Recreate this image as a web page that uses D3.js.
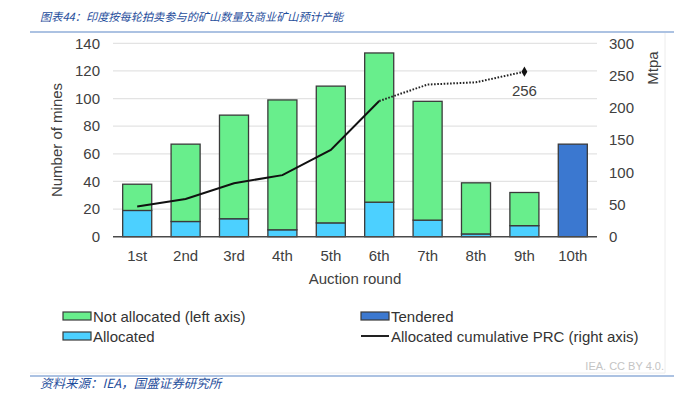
<!DOCTYPE html>
<html>
<head>
<meta charset="utf-8">
<script src="https://cdn.jsdelivr.net/npm/d3@7"></script>
<style>
  body { margin: 0; background: #fff; }
  svg { display: block; font-family: "Liberation Sans", Arial, sans-serif; }
</style>
</head>
<body>
<div id="chart"></div>
<script>
// data
var rounds = ["1st", "2nd", "3rd", "4th", "5th", "6th", "7th", "8th", "9th", "10th"];
var allocated = [19, 11, 13, 5, 10, 25, 12, 2, 8, 0];
var notAllocated = [19, 56, 75, 94, 99, 108, 86, 37, 24, 0];
var tendered = [0, 0, 0, 0, 0, 0, 0, 0, 0, 67];
var cumulativePRC = [47, 58.5, 83, 95.5, 134.5, 210.5, 236, 239.5, 256];
var leftTicks = [0, 20, 40, 60, 80, 100, 120, 140];
var rightTicks = [0, 50, 100, 150, 200, 250, 300];

var width = 696, height = 397;
var plot = { left: 113, right: 597, top: 43.3, bottom: 236.7 };
var fontSize = "15px";

var svg = d3.select("#chart").append("svg")
  .attr("width", width)
  .attr("height", height);

// title + frame lines
svg.append("text")
  .attr("x", 40).attr("y", 21)
  .style("font-family", "'Noto Sans CJK SC', sans-serif")
  .style("font-style", "italic")
  .style("font-size", "11.2px")
  .style("fill", "#1f4e9c")
  .text("图表44：印度按每轮拍卖参与的矿山数量及商业矿山预计产能");

svg.append("line")
  .attr("x1", 30).attr("x2", 674).attr("y1", 32).attr("y2", 32)
  .style("stroke", "#5b86c5").style("stroke-width", 1.2);

svg.append("line")
  .attr("x1", 665).attr("x2", 665).attr("y1", 33).attr("y2", 373)
  .style("stroke", "#ececec");
svg.append("line")
  .attr("x1", 30).attr("x2", 665).attr("y1", 373).attr("y2", 373)
  .style("stroke", "#ececec");

svg.append("line")
  .attr("x1", 30).attr("x2", 674).attr("y1", 376).attr("y2", 376)
  .style("stroke", "#5b86c5").style("stroke-width", 1.2);

svg.append("text")
  .attr("x", 40).attr("y", 388)
  .style("font-family", "'Noto Sans CJK SC', sans-serif")
  .style("font-style", "italic")
  .style("font-size", "12.5px")
  .style("fill", "#1f4e9c")
  .text("资料来源：IEA，国盛证券研究所");

svg.append("text")
  .attr("x", 664).attr("y", 370)
  .attr("text-anchor", "end")
  .style("font-size", "11px")
  .style("fill", "#c4c4c4")
  .text("IEA. CC BY 4.0.");

// scales
var x = d3.scaleBand()
  .domain(rounds)
  .range([plot.left, plot.right])
  .paddingInner(0.4)
  .paddingOuter(0.2);

var yLeft = d3.scaleLinear().domain([0, 140]).range([plot.bottom, plot.top]);
var yRight = d3.scaleLinear().domain([0, 300]).range([plot.bottom, plot.top]);

// gridlines
svg.append("g")
  .selectAll("line")
  .data(leftTicks.slice(1))
  .enter()
  .append("line")
  .attr("x1", plot.left).attr("x2", plot.right)
  .attr("y1", function (d) { return yLeft(d); })
  .attr("y2", function (d) { return yLeft(d); })
  .style("stroke", "#e3e3e3")
  .style("stroke-width", 1.3);

// axes
var leftAxis = svg.append("g")
  .attr("transform", "translate(" + plot.left + ",0)")
  .call(d3.axisLeft(yLeft).tickValues(leftTicks).tickSize(0).tickPadding(13));
var rightAxis = svg.append("g")
  .attr("transform", "translate(" + plot.right + ",0)")
  .call(d3.axisRight(yRight).tickValues(rightTicks).tickSize(0).tickPadding(12));
var xAxis = svg.append("g")
  .attr("transform", "translate(0," + plot.bottom + ")")
  .call(d3.axisBottom(x).tickSize(0).tickPadding(14));

[leftAxis, rightAxis, xAxis].forEach(function (a) {
  a.select(".domain").remove();
  a.selectAll("text")
    .style("font-size", fontSize)
    .style("font-family", "'Liberation Sans', Arial, sans-serif")
    .style("fill", "#404040");
});

svg.append("text")
  .attr("transform", "translate(62," + (plot.top + plot.bottom) / 2 + ") rotate(-90)")
  .attr("text-anchor", "middle")
  .style("font-size", fontSize)
  .style("fill", "#404040")
  .text("Number of mines");

svg.append("text")
  .attr("transform", "translate(658,68) rotate(-90)")
  .attr("text-anchor", "middle")
  .style("font-size", fontSize)
  .style("fill", "#404040")
  .text("Mtpa");

svg.append("text")
  .attr("x", (plot.left + plot.right) / 2)
  .attr("y", 284)
  .attr("text-anchor", "middle")
  .style("font-size", fontSize)
  .style("fill", "#404040")
  .text("Auction round");

// stacked bars
var table = rounds.map(function (r, i) {
  return { round: r, allocated: allocated[i], notAllocated: notAllocated[i], tendered: tendered[i] };
});
var stack = d3.stack().keys(["allocated", "notAllocated", "tendered"]);
var colors = { allocated: "#4cd0ff", notAllocated: "#68ee8c", tendered: "#3b78d0" };

svg.append("g")
  .selectAll("g")
  .data(stack(table))
  .enter()
  .append("g")
  .style("fill", function (d) { return colors[d.key]; })
  .selectAll("rect")
  .data(function (d) { return d.filter(function (p) { return p[1] > p[0]; }); })
  .enter()
  .append("rect")
  .attr("x", function (d) { return x(d.data.round); })
  .attr("width", x.bandwidth())
  .attr("y", function (d) { return yLeft(d[1]); })
  .attr("height", function (d) { return yLeft(d[0]) - yLeft(d[1]); })
  .style("stroke", "#3a3a3a")
  .style("stroke-width", 1.3);

// baseline
svg.append("line")
  .attr("x1", plot.left).attr("x2", plot.right)
  .attr("y1", plot.bottom).attr("y2", plot.bottom)
  .style("stroke", "#4a4a4a")
  .style("stroke-width", 1.5);

// cumulative PRC line
var pts = cumulativePRC.map(function (v, i) {
  return [x(rounds[i]) + x.bandwidth() / 2, yRight(v)];
});
var line = d3.line();

svg.append("path")
  .attr("d", line(pts.slice(0, 6)))
  .style("fill", "none")
  .style("stroke", "#111")
  .style("stroke-width", 2);

svg.append("path")
  .attr("d", line(pts.slice(5)))
  .style("fill", "none")
  .style("stroke", "#222")
  .style("stroke-width", 2)
  .style("stroke-dasharray", "1.6,1.6");

var last = pts[pts.length - 1];
svg.append("path")
  .attr("d", d3.symbol().type(d3.symbolDiamond).size(30)())
  .attr("transform", "translate(" + last[0] + "," + last[1] + ")")
  .style("fill", "#111");

svg.append("text")
  .attr("x", last[0])
  .attr("y", last[1] + 24)
  .attr("text-anchor", "middle")
  .style("font-size", fontSize)
  .style("fill", "#404040")
  .text(d3.format("d")(cumulativePRC[cumulativePRC.length - 1]));

// legend
var legendItems = [
  { label: "Not allocated (left axis)", type: "rect", color: colors.notAllocated, x: 63, y: 316 },
  { label: "Allocated", type: "rect", color: colors.allocated, x: 63, y: 336 },
  { label: "Tendered", type: "rect", color: colors.tendered, x: 361, y: 316 },
  { label: "Allocated cumulative PRC (right axis)", type: "line", color: "#222", x: 361, y: 336 }
];

var legend = svg.append("g").attr("class", "legend");
var item = legend.selectAll("g")
  .data(legendItems)
  .enter()
  .append("g")
  .attr("transform", function (d) { return "translate(" + d.x + "," + d.y + ")"; });

item.filter(function (d) { return d.type === "rect"; })
  .append("rect")
  .attr("x", 0).attr("y", -4)
  .attr("width", 28).attr("height", 8)
  .style("fill", function (d) { return d.color; })
  .style("stroke", "#3a3a3a")
  .style("stroke-width", 1.2);

item.filter(function (d) { return d.type === "line"; })
  .append("line")
  .attr("x1", 0).attr("x2", 28).attr("y1", 0).attr("y2", 0)
  .style("stroke", function (d) { return d.color; })
  .style("stroke-width", 2);

item.append("text")
  .attr("x", 30).attr("y", 5.5)
  .style("font-size", fontSize)
  .style("fill", "#333")
  .text(function (d) { return d.label; });
</script>
</body>
</html>
